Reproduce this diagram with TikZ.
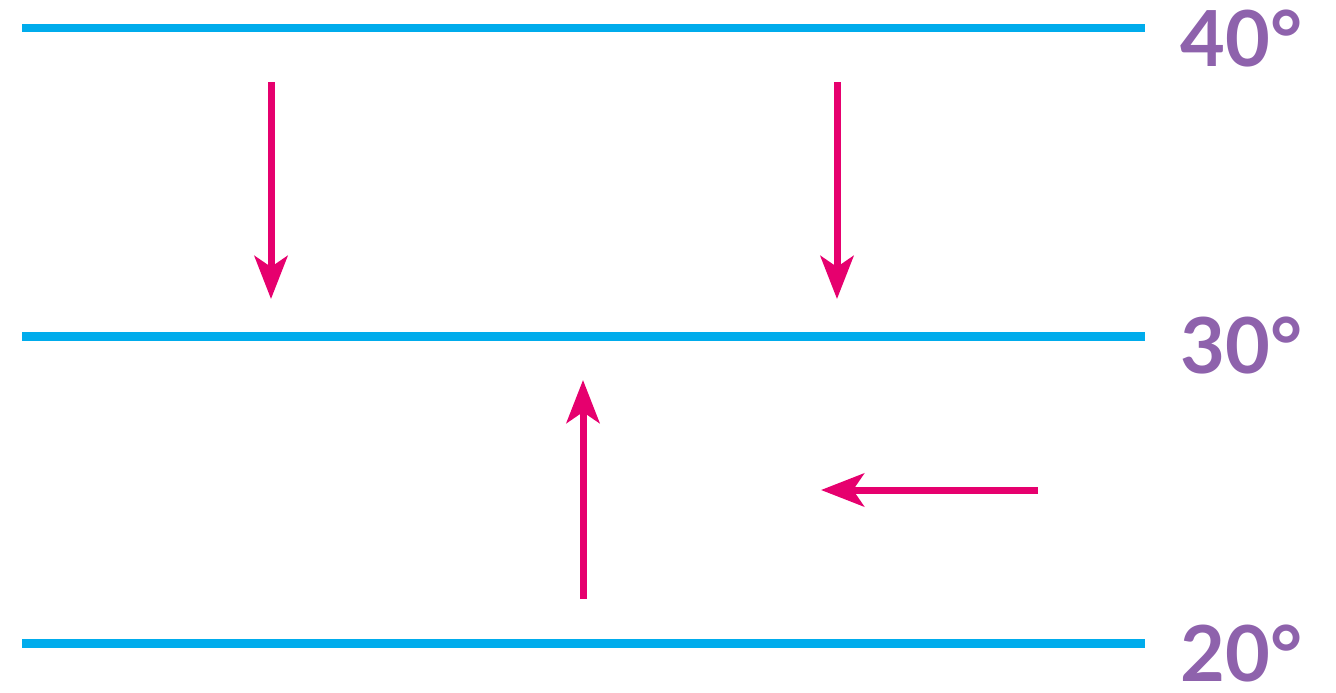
\documentclass[tikz,border=0pt]{standalone}
\usepackage{fontspec}
\setmainfont{Lato}
\usepackage{xcolor}
\usetikzlibrary{arrows.meta,positioning,calc}
\definecolor{linecyan}{RGB}{0,172,236}
\definecolor{labelpurple}{RGB}{142,98,172}
\definecolor{arrowpink}{RGB}{230,0,110}
\begin{document}
\begin{tikzpicture}[x=0.02cm,y=-0.02cm,font=\fontsize{44}{48}\selectfont\bfseries,
  >={Stealth[length=0.86cm,width=0.66cm,inset=0.22cm]},
  level/.style={linecyan,line width=0.18cm},
  temp/.style={labelpurple,anchor=base west,inner sep=0pt,text depth=0pt},
  flow/.style={arrowpink,line width=0.14cm,->}]
\useasboundingbox (0,0) rectangle (1336,693);
\def\L{22}
\def\R{1145}
% isotherms
\draw[level] (\L,28) -- (\R,28);
\draw[level] (\L,336) -- (\R,336);
\draw[level] (\L,643) -- (\R,643);
\node[temp] (t40) at (1180,66) {40°};
\node[temp] (t30) at (1180,373) {30°};
\node[temp] (t20) at (1180,681) {20°};
% arrows
\coordinate (a1s) at (271,82);  \coordinate (a1e) at (271,299);
\coordinate (a2s) at (837,82);  \coordinate (a2e) at (837,299);
\coordinate (a3s) at (583,599); \coordinate (a3e) at (583,380);
\coordinate (a4s) at (1038,490); \coordinate (a4e) at (821,490);
\draw[flow] (a1s) -- (a1e);
\draw[flow] (a2s) -- (a2e);
\draw[flow] (a3s) -- (a3e);
\draw[flow] (a4s) -- (a4e);
\end{tikzpicture}
\end{document}
